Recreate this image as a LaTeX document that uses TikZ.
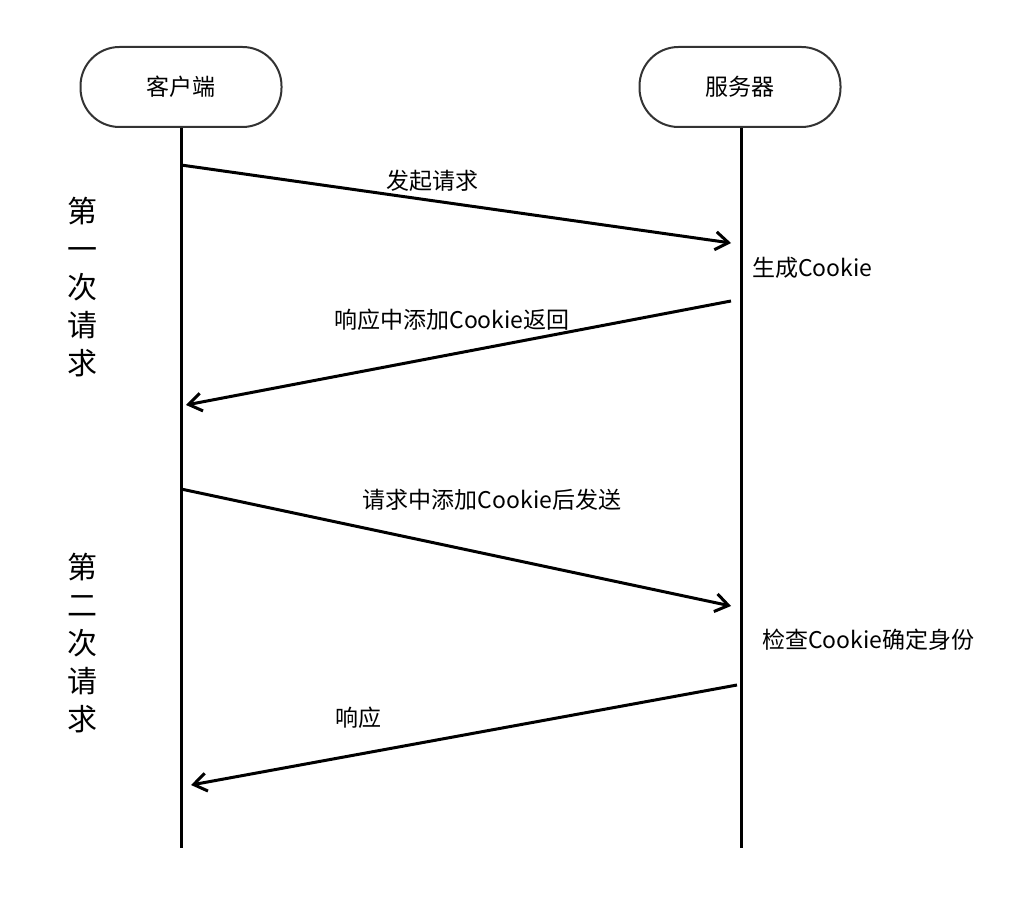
\documentclass[tikz,border=0pt]{standalone}
\usepackage{fontspec}
\setmainfont{Noto Sans CJK SC}
\usetikzlibrary{arrows.meta}
\begin{document}
\begin{tikzpicture}[x=1pt,y=-1pt,
  actor/.style={draw=black!80, line width=2pt, rounded corners=39pt, minimum width=201pt, minimum height=80pt, font=\fontsize{23}{27}\selectfont},
  life/.style={line width=3pt},
  msg/.style={line width=3pt, -{Straight Barb[length=13pt,width=18pt]}},
  lbl/.style={font=\fontsize{23}{27}\selectfont, inner sep=0pt},
  side/.style={font=\fontsize{30}{38}\selectfont, align=center, inner sep=0pt}]
\useasboundingbox[fill=white] (0,0) rectangle (1022,909);
\node[actor] (client) at (181,87) {客户端};
\node[actor] (server) at (740,87) {服务器};
\coordinate (cend) at (181,848);
\coordinate (send) at (741,848);
\draw[life] (client.south) -- (cend);
\draw[life] (server.south -| send) -- (send);
% messages
\coordinate (m1s) at (181,165); \coordinate (m1e) at (731,243);
\coordinate (m2s) at (731,301); \coordinate (m2e) at (186,405);
\coordinate (m3s) at (181,489); \coordinate (m3e) at (731,606);
\coordinate (m4s) at (737,685); \coordinate (m4e) at (191,785);
\draw[msg] (m1s) -- (m1e);
\draw[msg] (m2s) -- (m2e);
\draw[msg] (m3s) -- (m3e);
\draw[msg] (m4s) -- (m4e);
% labels
\node[lbl] (l1) at (432,181) {发起请求};
\node[lbl,anchor=west] (l2) at (752,268) {生成Cookie};
\node[lbl] (l3) at (452,320) {响应中添加Cookie返回};
\node[lbl] (l4) at (492,500) {请求中添加Cookie后发送};
\node[lbl,anchor=west] (l5) at (762,640) {检查Cookie确定身份};
\node[lbl] (l6) at (358,718) {响应};
\node[side] (s1) at (82,287) {第\\一\\次\\请\\求};
\node[side] (s2) at (82,643) {第\\二\\次\\请\\求};
\end{tikzpicture}
\end{document}
